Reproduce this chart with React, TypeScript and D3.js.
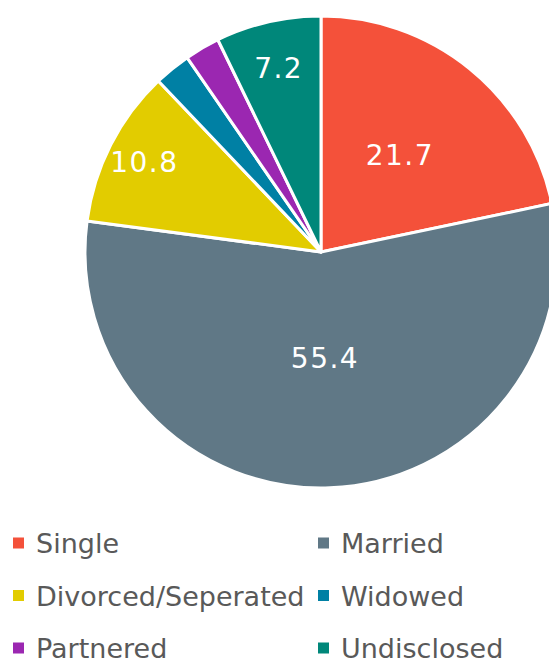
import React, { useEffect, useRef } from 'react';
import * as d3 from 'd3';

const categories = ['Single', 'Married', 'Divorced/Seperated', 'Widowed', 'Partnered', 'Undisclosed'];
const values = [21.7, 55.4, 10.8, 2.5, 2.4, 7.2];
const colors = ['#F4513A', '#607886', '#E2CC00', '#0080A4', '#9B27B1', '#00877A'];

const FONT = '"DejaVu Sans", Verdana, sans-serif';

const App = () => {
  const svgRef = useRef<SVGSVGElement>(null);

  useEffect(() => {
    const width = 549;
    const height = 664;
    const radius = 236;
    const cx = 321;
    const cy = 252;

    const svg = d3.select(svgRef.current);
    svg.selectAll('*').remove();
    svg.attr('width', width).attr('height', height);

    const data = categories.map((c, i) => ({ label: c, value: values[i], color: colors[i] }));

    const pie = d3.pie<any>().value(d => d.value).sort(null);
    const arc = d3.arc<any>().innerRadius(0).outerRadius(radius);

    const g = svg.append('g').attr('transform', `translate(${cx},${cy})`);
    const arcs = g.selectAll('.arc').data(pie(data)).enter().append('g').attr('class', 'arc');

    arcs
      .append('path')
      .attr('d', arc)
      .attr('fill', d => d.data.color)
      .attr('stroke', 'white')
      .attr('stroke-width', 3)
      .attr('stroke-linejoin', 'round');

    // labels: big slices sit nearer the centre, small ones near the rim
    const labelR = (v: number) => (v > 50 ? 0.45 : v > 15 ? 0.53 : v > 10 ? 0.84 : 0.8) * radius;
    arcs
      .filter(d => d.data.value > 5)
      .append('text')
      .attr('transform', d => {
        const r = labelR(d.data.value);
        const c = d3.arc<any>().innerRadius(r).outerRadius(r).centroid(d);
        return `translate(${c})`;
      })
      .attr('text-anchor', 'middle')
      .attr('dy', '0.36em')
      .attr('font-family', FONT)
      .attr('font-size', 28)
      .attr('letter-spacing', 1.5)
      .attr('fill', 'white')
      .text(d => d.data.value.toFixed(1));

    // legend, two columns
    const legend = svg.append('g');
    const items = legend
      .selectAll('.item')
      .data(data)
      .enter()
      .append('g')
      .attr('class', 'item')
      .attr('transform', (d, i) => `translate(${i % 2 === 0 ? 13 : 318},${543 + Math.floor(i / 2) * 52.5})`);

    items
      .append('rect')
      .attr('x', 0)
      .attr('y', -5.5)
      .attr('width', 11)
      .attr('height', 11)
      .attr('fill', d => d.color);

    items
      .append('text')
      .attr('x', 23)
      .attr('y', 10)
      .attr('font-family', FONT)
      .attr('font-size', 27)
      .attr('fill', '#595959')
      .text(d => d.label);
  }, []);

  return <svg ref={svgRef} style={{ position: 'absolute', left: 0, top: 0 }}></svg>;
};

export default App;
